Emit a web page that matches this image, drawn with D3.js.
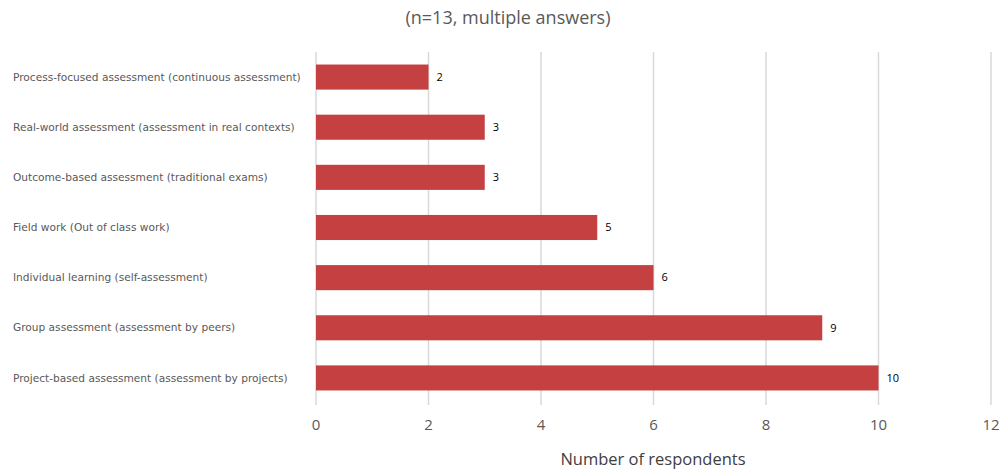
<!DOCTYPE html>
<html><head><meta charset="utf-8">
<script src="https://cdn.jsdelivr.net/npm/d3@7/dist/d3.min.js"></script>
<style>body{margin:0;background:#fff}</style>
</head><body>
<svg id="c" width="1000" height="470"></svg>
<script>
const categories = [
  "Process-focused assessment (continuous assessment)",
  "Real-world assessment (assessment in real contexts)",
  "Outcome-based assessment (traditional exams)",
  "Field work (Out of class work)",
  "Individual learning (self-assessment)",
  "Group assessment (assessment by peers)",
  "Project-based assessment (assessment by projects)"
];
const values = [2, 3, 3, 5, 6, 9, 10];
const xTicks = [0, 2, 4, 6, 8, 10, 12];
const subtitle = "(n=13, multiple answers)";
const xTitle = "Number of respondents";

const svg = d3.select("#c");
const x = d3.scaleLinear().domain([0, 12]).range([316, 991]);
const y = d3.scaleBand().domain(categories).range([52, 403]).paddingInner(0.5).paddingOuter(0.25);

svg.append("g").selectAll("line").data(xTicks).join("line")
  .attr("x1", d => x(d)).attr("x2", d => x(d))
  .attr("y1", 52).attr("y2", 405)
  .attr("stroke", "#d9d9d9").attr("stroke-width", 1.5);

svg.append("g").selectAll("rect").data(values).join("rect")
  .attr("x", x(0)).attr("y", (d, i) => y(categories[i]))
  .attr("width", d => x(d) - x(0)).attr("height", y.bandwidth())
  .attr("fill", "#c44041");

svg.append("g").selectAll("text").data(values).join("text")
  .attr("x", d => x(d) + 8).attr("y", (d, i) => y(categories[i]) + y.bandwidth() / 2)
  .attr("dy", "0.35em").attr("font-family", "Open Sans").attr("font-size", 11)
  .attr("fill", "#000").text(d => d);

svg.append("g").selectAll("text").data(categories).join("text")
  .attr("x", 13).attr("y", d => y(d) + y.bandwidth() / 2)
  .attr("dy", "0.35em").attr("font-family", "DejaVu Sans").attr("font-size", 10.6)
  .attr("fill", "#595959").text(d => d);

svg.append("g").selectAll("text").data(xTicks).join("text")
  .attr("x", d => x(d)).attr("y", 430).attr("text-anchor", "middle")
  .attr("font-family", "Open Sans").attr("font-size", 15).attr("fill", "#595959")
  .text(d => d);

svg.append("text").attr("x", 653).attr("y", 465).attr("text-anchor", "middle")
  .attr("font-family", "Open Sans").attr("font-size", 16.5).attr("fill", "#404040").text(xTitle);

svg.append("text").attr("x", 508).attr("y", 24).attr("text-anchor", "middle")
  .attr("font-family", "Open Sans").attr("font-size", 18).attr("fill", "#595959").text(subtitle);
</script>
</body></html>
